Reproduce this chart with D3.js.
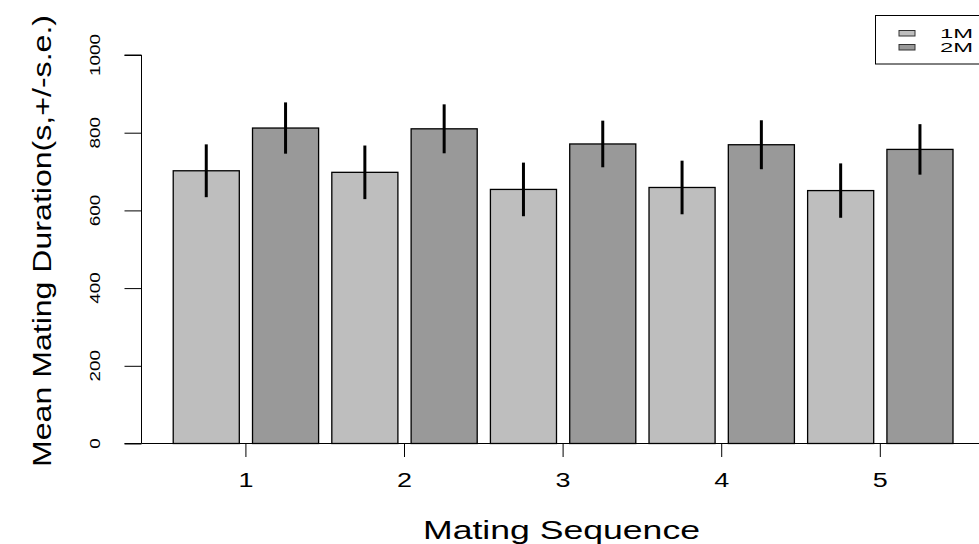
<!DOCTYPE html>
<html>
<head>
<meta charset="utf-8">
<script src="https://cdn.jsdelivr.net/npm/d3@7"></script>
<style>
  body { margin: 0; background: #fff; }
  text { font-family: "Liberation Sans", Arial, sans-serif; fill: #000; }
</style>
</head>
<body>
<svg id="mainsvg" width="979" height="544"></svg>
<script>
// data
const sequences = ['1', '2', '3', '4', '5'];
const groupNames = ['1M', '2M'];
const mean1M = [702, 698, 654, 659, 651];
const mean2M = [812, 810, 771, 769, 757];
const se1M = [68, 69, 69, 69, 70];
const se2M = [66, 63, 60, 63, 65];
const yTicks = [0, 200, 400, 600, 800, 1000];

const color = {'1M': '#bebebe', '2M': '#999999'};

const svg = d3.select('#mainsvg');

// R barplot style layout: every bar width 1, space 0.2
const xScale = d3.scaleLinear().domain([0, 12]).range([160, 953]);
const yScale = d3.scaleLinear().domain([0, 1000]).range([443.5, 55]);

let bars = [];
sequences.forEach((s, i) => {
    bars.push({seq: s, grp: '1M', mean: mean1M[i], se: se1M[i], idx: i * 2});
    bars.push({seq: s, grp: '2M', mean: mean2M[i], se: se2M[i], idx: i * 2 + 1});
});
const barLeft = d => 0.2 + d.idx * 1.2;

// bars
svg.append('g').selectAll('rect').data(bars).join('rect')
    .attr('x', d => xScale(barLeft(d)))
    .attr('y', d => yScale(d.mean))
    .attr('width', d => xScale(barLeft(d) + 1) - xScale(barLeft(d)))
    .attr('height', d => yScale(0) - yScale(d.mean))
    .attr('fill', d => color[d.grp])
    .attr('stroke', '#000')
    .attr('stroke-width', 1.3);

// error bars
svg.append('g').selectAll('line').data(bars).join('line')
    .attr('x1', d => xScale(barLeft(d) + 0.5))
    .attr('x2', d => xScale(barLeft(d) + 0.5))
    .attr('y1', d => yScale(d.mean + d.se))
    .attr('y2', d => yScale(d.mean - d.se))
    .attr('stroke', '#000')
    .attr('stroke-width', 3);

// x axis: long baseline + ticks at group centres
svg.append('line')
    .attr('x1', 141.5).attr('x2', 979)
    .attr('y1', yScale(0)).attr('y2', yScale(0))
    .attr('stroke', '#000').attr('stroke-width', 1);

const groupCentre = i => xScale(1.3 + 2.4 * i);
const xAxis = svg.append('g');
sequences.forEach((s, i) => {
    xAxis.append('line')
        .attr('x1', groupCentre(i)).attr('x2', groupCentre(i))
        .attr('y1', yScale(0)).attr('y2', 457)
        .attr('stroke', '#000');
    xAxis.append('text')
        .attr('x', groupCentre(i)).attr('y', 487)
        .attr('text-anchor', 'middle')
        .attr('font-size', 19.5)
        .attr('textLength', 15)
        .attr('lengthAdjust', 'spacingAndGlyphs')
        .text(s);
});

// y axis
const yAxis = d3.axisLeft(yScale).tickValues(yTicks).tickSize(17).tickFormat('');
const yg = svg.append('g')
    .attr('transform', 'translate(141.5,0)')
    .call(yAxis);
yg.select('.domain').attr('d', `M-17,${yScale(0)}H0V${yScale(1000)}H-17`).attr('stroke', '#000');
yg.selectAll('.tick line').attr('stroke', '#000');

svg.append('g').selectAll('text').data(yTicks).join('text')
    .attr('transform', d => `translate(100,${yScale(d)}) rotate(-90)`)
    .attr('text-anchor', 'middle')
    .attr('font-size', 15.5)
    .attr('textLength', d => String(d).length * 10.5)
    .attr('lengthAdjust', 'spacingAndGlyphs')
    .text(d => d);

// axis titles
svg.append('text')
    .attr('x', 561.5).attr('y', 539)
    .attr('text-anchor', 'middle')
    .attr('font-size', 25)
    .attr('textLength', 277)
    .attr('lengthAdjust', 'spacingAndGlyphs')
    .text('Mating Sequence');

svg.append('text')
    .attr('transform', 'translate(51,241) rotate(-90)')
    .attr('text-anchor', 'middle')
    .attr('font-size', 25.5)
    .attr('textLength', 452)
    .attr('lengthAdjust', 'spacingAndGlyphs')
    .text('Mean Mating Duration(s,+/-s.e.)');

// legend
const legend = svg.append('g');
legend.append('rect')
    .attr('x', 875.5).attr('y', 15.5)
    .attr('width', 120).attr('height', 48.5)
    .attr('fill', 'none').attr('stroke', '#000');

const lg = legend.selectAll('.legend').data(groupNames).join('g')
    .attr('class', 'legend')
    .attr('transform', (d, i) => `translate(0,${i * 14})`);
lg.append('rect')
    .attr('x', 899).attr('y', 30.5)
    .attr('width', 16).attr('height', 5.5)
    .attr('fill', d => color[d])
    .attr('stroke', '#333').attr('stroke-width', 1);
lg.append('text')
    .attr('x', 940).attr('y', 37.5)
    .attr('font-size', 12)
    .attr('textLength', 33)
    .attr('lengthAdjust', 'spacingAndGlyphs')
    .text(d => d);
</script>
</body>
</html>
